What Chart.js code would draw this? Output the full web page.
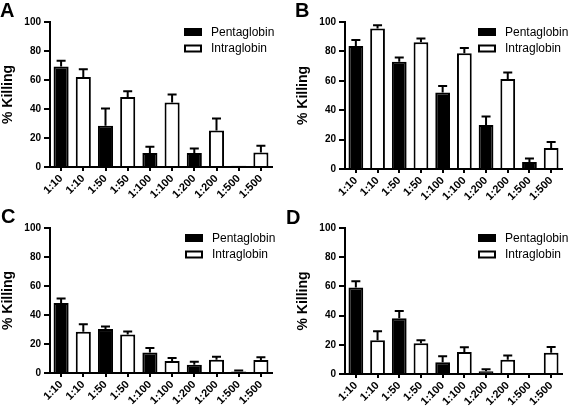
<!DOCTYPE html>
<html><head><meta charset="utf-8">
<script src="https://cdn.jsdelivr.net/npm/chart.js@4.4.0/dist/chart.umd.min.js"></script>
<style>
html,body{margin:0;padding:0;background:#fff;}
#wrap{position:relative;width:568px;height:413px;overflow:hidden;background:#fff;}
.panel{position:absolute;}
.letter{position:absolute;font:bold 20px "Liberation Sans",Arial,sans-serif;line-height:20px;color:#000;}
</style></head><body>
<div id="wrap">
  <div class="panel" style="left:0;top:0;"><canvas id="cA" width="284" height="206"></canvas></div>
  <div class="panel" style="left:284px;top:0;"><canvas id="cB" width="284" height="206"></canvas></div>
  <div class="panel" style="left:0;top:206px;"><canvas id="cC" width="284" height="207"></canvas></div>
  <div class="panel" style="left:284px;top:206px;"><canvas id="cD" width="284" height="207"></canvas></div>
  <div class="letter" style="left:0;top:0;">A</div>
  <div class="letter" style="left:295px;top:0;">B</div>
  <div class="letter" style="left:1px;top:206px;">C</div>
  <div class="letter" style="left:286px;top:207px;">D</div>
</div>
<script>
// ---- data ----
const dilutions = ['1:10','1:50','1:100','1:200','1:500'];
const seriesNames = ['Pentaglobin','Intraglobin'];
const yTicks = [0,20,40,60,80,100];

const pentaA = [69.3, 28.4, 9.6, 9.6, 0.8];
const pentaErrA = [4, 12, 4.4, 3.2, 0];
const intraA = [62, 48.2, 44.5, 25.2, 10];
const intraErrA = [5.5, 4, 5.5, 8.3, 4.7];

const pentaB = [83.7, 72.9, 52, 30, 4.8];
const pentaErrB = [4, 3, 4.5, 5.7, 2.4];
const intraB = [95.5, 86.2, 78.7, 61.3, 14.3];
const intraErrB = [2.3, 2.5, 3.6, 4.3, 4];

const pentaC = [48.2, 30.3, 14.2, 5.7, 1.1];
const pentaErrC = [3.2, 1.8, 3, 2.1, 0.7];
const intraC = [28.4, 26.6, 8.3, 9.2, 8.9];
const intraErrC = [5.3, 2.1, 2, 2, 1.9];

const pentaD = [59.3, 38.2, 8, 1.8, 0.7];
const pentaErrD = [4.3, 5, 4.1, 1.4, 0];
const intraD = [23.1, 21, 15.1, 9.8, 14.6];
const intraErrD = [6.2, 2.1, 3.2, 2.8, 3.9];

// ---- build ----
Chart.defaults.font.family = '"Liberation Sans", Arial, sans-serif';
Chart.defaults.color = '#000';

const categories = [];
dilutions.forEach(d => { categories.push(d); categories.push(d); });

function interleave(vals, slot) {
  const out = [];
  vals.forEach(v => { if (slot === 0) { out.push(v, null); } else { out.push(null, v); } });
  return out;
}

const errorBars = {
  id: 'errorBars',
  afterDatasetsDraw(chart) {
    const ctx = chart.ctx, y = chart.scales.y;
    chart.data.datasets.forEach((ds, di) => {
      const meta = chart.getDatasetMeta(di);
      ds.errors.forEach((e, i) => {
        if (e == null || !e || ds.data[i] == null) return;
        const el = meta.data[i];
        const top = y.getPixelForValue(ds.data[i] + e);
        ctx.save();
        ctx.strokeStyle = '#000'; ctx.lineWidth = 2;
        ctx.beginPath();
        ctx.moveTo(el.x, el.y); ctx.lineTo(el.x, top);
        ctx.moveTo(el.x - 4.5, top); ctx.lineTo(el.x + 4.5, top);
        ctx.stroke();
        ctx.restore();
      });
    });
  }
};

const boxLegend = {
  id: 'boxLegend',
  afterDraw(chart, args, opts) {
    const ctx = chart.ctx;
    chart.data.datasets.forEach((ds, i) => {
      const x = opts.x, y = opts.y + i * 16.5;
      ctx.save();
      ctx.fillStyle = ds.backgroundColor;
      ctx.fillRect(x, y, 18, 8);
      ctx.strokeStyle = '#000'; ctx.lineWidth = 2;
      ctx.strokeRect(x + 1, y + 1, 16, 6);
      ctx.fillStyle = '#000';
      ctx.font = '12px "Liberation Sans", Arial, sans-serif';
      ctx.textBaseline = 'middle';
      ctx.fillText(ds.label, x + 27, y + 4.5);
      ctx.restore();
    });
  }
};

function makeChart(id, penta, pentaErr, intra, intraErr, padLeft, padRight, bottomY, legendX) {
  const canvas = document.getElementById(id);
  return new Chart(canvas, {
    type: 'bar',
    data: {
      labels: categories,
      datasets: [
        { label: seriesNames[0], data: interleave(penta, 0), errors: interleave(pentaErr, 0),
          backgroundColor: '#000', borderColor: '#000', borderWidth: 2, skipNull: true,
          categoryPercentage: 1, barPercentage: 0.68 },
        { label: seriesNames[1], data: interleave(intra, 1), errors: interleave(intraErr, 1),
          backgroundColor: '#fff', borderColor: '#000', borderWidth: 2, skipNull: true,
          categoryPercentage: 1, barPercentage: 0.68 }
      ]
    },
    options: {
      responsive: false, animation: false,
      layout: { padding: { top: 22, left: padLeft, right: padRight, bottom: 0 } },
      plugins: { legend: { display: false }, tooltip: { enabled: false },
                 boxLegend: { x: legendX, y: 28 } },
      scales: {
        x: {
          offset: true,
          grid: { offset: false, drawOnChartArea: false, tickLength: 4, color: '#000', lineWidth: 2 },
          border: { color: '#000', width: 2 },
          ticks: { maxRotation: 45, minRotation: 45, autoSkip: false, padding: 1,
                   font: { weight: 'bold', size: 11 }, color: '#000' },
          afterFit(s) { s.height = canvas.height - bottomY; }
        },
        y: {
          min: 0, max: 100,
          afterBuildTicks(s) { s.ticks = yTicks.map(v => ({ value: v })); },
          grid: { drawOnChartArea: false, tickLength: 6, color: '#000', lineWidth: 2 },
          border: { color: '#000', width: 2 },
          ticks: { padding: 3, font: { weight: 'bold', size: 10 }, color: '#000' },
          title: { display: true, text: '% Killing', font: { weight: 'bold', size: 14 }, color: '#000',
                   padding: { top: 0, bottom: 0 } },
          afterFit(s) { s.width = 50; }
        }
      }
    },
    plugins: [errorBars, boxLegend]
  });
}

makeChart('cA', pentaA, pentaErrA, intraA, intraErrA, 0, 12, 167, 184);
makeChart('cB', pentaB, pentaErrB, intraB, intraErrB, 11, 6, 169, 194);
makeChart('cC', pentaC, pentaErrC, intraC, intraErrC, 0, 12, 167, 185);
makeChart('cD', pentaD, pentaErrD, intraD, intraErrD, 11, 6, 168, 194);
</script>
</body></html>
